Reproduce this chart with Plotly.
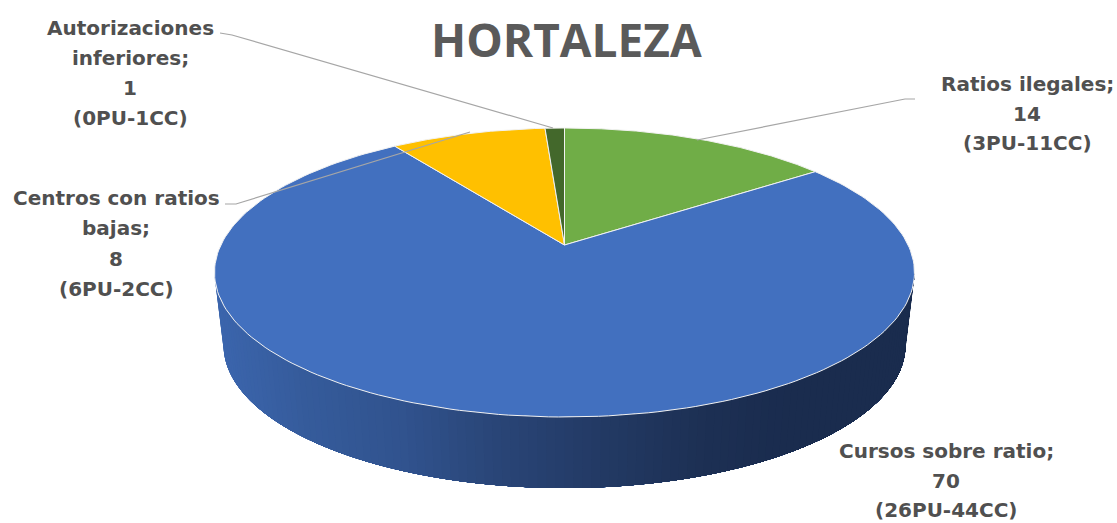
import numpy as np
import plotly.graph_objects as go

# ---- data ----
categories = ["Ratios ilegales", "Cursos sobre ratio", "Centros con ratios bajas", "Autorizaciones inferiores"]
values = [14, 70, 8, 1]
pu_counts = [3, 26, 6, 0]
cc_counts = [11, 44, 2, 1]
name_lines = [["Ratios ilegales;"], ["Cursos sobre ratio;"], ["Centros con ratios", "bajas;"], ["Autorizaciones", "inferiores;"]]
title_text = "HORTALEZA"

# ---- styles / layout ----
slice_colors = ["#70AD47", "#4270BF", "#FFC000", "#43682B"]
text_color = "#505050"
W, H = 1117, 523
cx, cy, rx, ry = 564.5, 272.5, 350.0, 144.5
apex_y = 245.0
bx, by, brx, bry = 564.5, 345.0, 341.0, 143.0
v0 = (cy - apex_y) / ry
label_cx = [1027, 946, 116, 130]
label_y0 = [84, 451, 198, 28]
label_dy = [29.5, 29.5, 30.3, 30]
leader_x = [[915, 905, 697], [], [225, 236, 470], [220, 232, 553]]
leader_y = [[99, 99, 140], [], [204, 204, 132], [33, 35, 128]]
grad_x = [215, 300, 400, 490, 600, 700, 790, 914]
grad_c = [(60, 102, 174), (54, 92, 156), (49, 83, 142), (42, 70, 120), (35, 58, 100), (29, 48, 84), (26, 44, 78), (26, 44, 78)]


def project(a):
    """True pie angle (clockwise from 12 o'clock) -> perspective view of the disc."""
    u, v = np.sin(a), np.cos(a)
    d = 1 + v0 * v
    return cx + rx * u * np.sin(np.arccos(v0)) / d, cy - ry * (v + v0) / d


fig = go.Figure()

# side wall: each band runs on to the right end and is painted over by the next one,
# so no seams can show between neighbouring colours
ts = np.linspace(3 * np.pi / 2, np.pi / 2, 121)
for t0 in ts[:-1]:
    tt = np.linspace(t0, np.pi / 2, 80)
    xt, yt = cx + rx * np.sin(tt), cy - ry * np.cos(tt)
    xb, yb = bx + brx * np.sin(tt), by - bry * np.cos(tt)
    xm = (xt[0] + xb[0]) / 2
    col = [int(np.interp(xm, grad_x, [c[i] for c in grad_c])) for i in range(3)]
    css = f"rgb({col[0]},{col[1]},{col[2]})"
    fig.add_trace(go.Scatter(
        x=np.r_[xt, xb[::-1], xt[0]], y=np.r_[yt, yb[::-1], yt[0]],
        mode="none", fill="toself", fillcolor=css,
        hoverinfo="skip", showlegend=False))

# top slices
fractions = np.cumsum([0] + values) / sum(values) * 2 * np.pi
for i, col in enumerate(slice_colors):
    a = np.linspace(fractions[i], fractions[i + 1], 200)
    x, y = project(a)
    fig.add_trace(go.Scatter(
        x=np.r_[cx, x, cx], y=np.r_[apex_y, y, apex_y],
        mode="lines", fill="toself", fillcolor=col, line=dict(color="#F2F2F2", width=1),
        name=categories[i], hoverinfo="skip", showlegend=False))

# leader lines
for lx, ly in zip(leader_x, leader_y):
    if lx:
        fig.add_trace(go.Scatter(x=lx, y=ly, mode="lines", line=dict(color="#A6A6A6", width=1.2),
                                 hoverinfo="skip", showlegend=False))

# labels
annotations = []
for i in range(len(categories)):
    lines = name_lines[i] + [str(values[i]), f"({pu_counts[i]}PU-{cc_counts[i]}CC)"]
    for j, line in enumerate(lines):
        annotations.append(dict(x=label_cx[i], y=label_y0[i] + j * label_dy[i], text=f"<b>{line}</b>",
                                showarrow=False, xanchor="center", yanchor="middle",
                                font=dict(family="DejaVu Sans", size=20, color=text_color)))
annotations.append(dict(x=566, y=39, text=f"<b>{title_text}</b>", showarrow=False,
                        xanchor="center", yanchor="middle",
                        font=dict(family="Open Sans", size=46, color="#5A5A5A")))

fig.update_layout(
    width=W, height=H, margin=dict(l=0, r=0, t=0, b=0),
    paper_bgcolor="white", plot_bgcolor="white", annotations=annotations,
    xaxis=dict(range=[0, W], visible=False, fixedrange=True),
    yaxis=dict(range=[H, 0], visible=False, fixedrange=True),
)
fig.write_html("out.html", config=dict(displayModeBar=False),
               post_script="document.body.style.margin='0';document.body.style.overflow='hidden';")
